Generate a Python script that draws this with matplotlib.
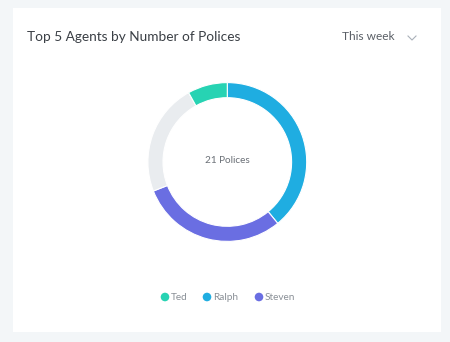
import matplotlib
matplotlib.use("Agg")
import matplotlib.pyplot as plt
from matplotlib.patches import Rectangle, Circle

agents = ["Ted", "Ralph", "Steven"]
values = [1.7, 8.2, 6.3]
remainder = 4.8
colors = {"Ted": "#27d3b3", "Ralph": "#1fade1", "Steven": "#6a6ee2"}
rest_color = "#e9ecef"
title = "Top 5 Agents by Number of Polices"
period = "This week"
center_label = "21 Polices"

W, H = 450, 342
fig = plt.figure(figsize=(W / 100, H / 100), dpi=100)
fig.patch.set_facecolor("#f3f6f8")

bg = fig.add_axes([0, 0, 1, 1])
bg.set_xlim(0, W)
bg.set_ylim(H, 0)
bg.axis("off")
bg.add_patch(Rectangle((13, 8), 428, 324, facecolor="white", edgecolor="none"))

font = "Lato"
bg.text(27, 37, title, fontsize=9.8, color="#3a3f45", family=font, va="center", ha="left")
bg.text(342, 37, period, fontsize=8.6, color="#5a5f66", family=font, va="center", ha="left")
bg.plot([408, 412, 416], [36, 40, 36], color="#a9b0b8", lw=0.8)

# donut
cx, cy, r = 227.3, 162, 79.4
dax = fig.add_axes([(cx - r) / W, (H - cy - r) / H, 2 * r / W, 2 * r / H])
vals = [values[agents.index("Ralph")], values[agents.index("Steven")], remainder, values[agents.index("Ted")]]
cols = [colors["Ralph"], colors["Steven"], rest_color, colors["Ted"]]
dax.pie(vals, colors=cols, startangle=90, counterclock=False, radius=1,
        wedgeprops=dict(width=0.19, edgecolor="white", linewidth=0.8))
dax.set_xlim(-1, 1)
dax.set_ylim(-1, 1)
dax.set_aspect("equal")
dax.axis("off")
dax.text(0, 0.02, center_label, ha="center", va="center", fontsize=7.2, color="#6b7077", family=font)

# legend
lx = [165, 207, 259]
for name, x in zip(agents, lx):
    bg.add_patch(Circle((x, 297), 4.3, facecolor=colors[name], edgecolor="none"))
    bg.text(x + 6, 297, name, fontsize=7.2, color="#8a9097", family=font, va="center", ha="left")

fig.savefig("out.png", dpi=100, facecolor=fig.get_facecolor())
